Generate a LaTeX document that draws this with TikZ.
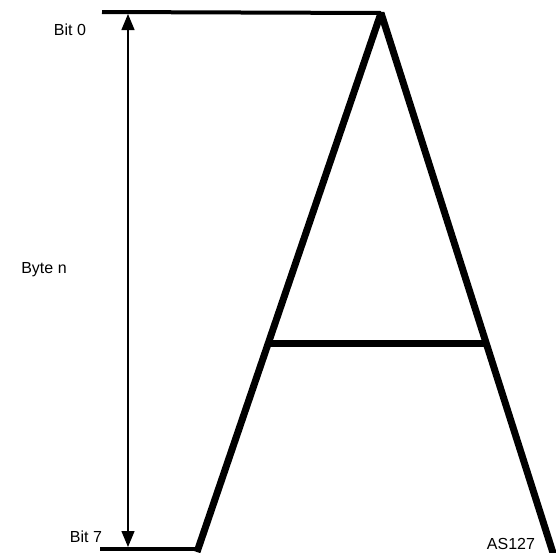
\documentclass[tikz,border=0pt]{standalone}
\usepackage{fontspec}
\setmainfont{Liberation Sans}
\usetikzlibrary{arrows.meta}
\tikzset{
  stroke/.style={line width=7pt,line join=bevel},
  rule/.style={line width=4pt},
  lbl/.style={font=\fontsize{16}{18}\selectfont,inner sep=0pt},
  span/.style={{Triangle[length=16pt,width=13pt]}-{Triangle[length=16pt,width=13pt]},line width=1.3pt}
}
\begin{document}
\begin{tikzpicture}[x=1pt,y=-1pt]
\useasboundingbox (0,0) rectangle (556,552);
% letter A
\coordinate (apex) at (381,13);
\coordinate (footL) at (197,552);
\coordinate (footR) at (554,556);
\coordinate (barL) at (270,343);
\coordinate (barR) at (486,343);
\draw[stroke] (footL)--(apex)--(footR);
\draw[stroke] (barL)--(barR);
% top and bottom rules
\coordinate (topL) at (102,12);
\coordinate (botL) at (100,549);
\coordinate (botR) at (198,549);
\draw[rule] (topL)--(apex);
\draw[rule] (botL)--(botR);
% byte span
\coordinate (spanT) at (128,14);
\coordinate (spanB) at (128,547);
\draw[span] (spanT)--(spanB);
\node[lbl] (bit0) at (70,30) {Bit 0};
\node[lbl] (byte) at (44,270) {Byte n};
\node[lbl] (bit7) at (86,537) {Bit 7};
\node[lbl] (fig) at (511,544) {AS127};
\end{tikzpicture}
\end{document}
